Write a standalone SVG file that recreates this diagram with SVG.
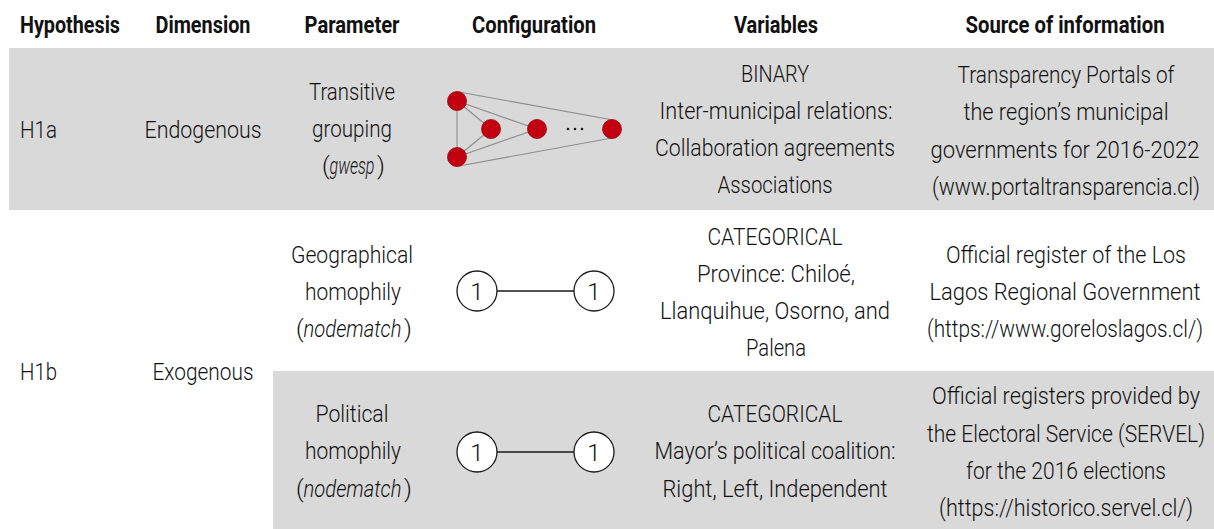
<svg xmlns="http://www.w3.org/2000/svg" width="1214" height="529" viewBox="0 0 1214 529">
  <style>
    text { font-family: Roboto, "Liberation Sans", sans-serif; font-size: 24px; font-weight: 300; fill: #111111; }
    .hd { font-weight: bold; text-anchor: middle; }
    .c { text-anchor: middle; }
    .it { font-style: italic; }
    .band { fill: #d9d9d9; }
    .edge { stroke: #8c8c8c; stroke-width: 1.1; fill: none; }
    .dot { fill: #c10010; stroke: #9e000c; stroke-width: 0.8; }
    .ring { fill: #ffffff; stroke: #1a1a1a; stroke-width: 1.3; }
    .link { stroke: #1a1a1a; stroke-width: 1.3; }
  </style>

  <rect width="1214" height="529" fill="#ffffff"/>

  <!-- row shading -->
  <rect class="band" x="9" y="48" width="1205" height="162"/>
  <rect class="band" x="273" y="371" width="941" height="158"/>

  <!-- column headers -->
  <g id="header">
    <text class="hd" x="70" y="33" textLength="100" lengthAdjust="spacingAndGlyphs">Hypothesis</text>
    <text class="hd" x="203" y="33" textLength="95" lengthAdjust="spacingAndGlyphs">Dimension</text>
    <text class="hd" x="352" y="33" textLength="95" lengthAdjust="spacingAndGlyphs">Parameter</text>
    <text class="hd" x="534" y="33" textLength="124" lengthAdjust="spacingAndGlyphs">Configuration</text>
    <text class="hd" x="776" y="33" textLength="84" lengthAdjust="spacingAndGlyphs">Variables</text>
    <text class="hd" x="1065" y="33" textLength="199" lengthAdjust="spacingAndGlyphs">Source of information</text>
  </g>

  <!-- H1a row -->
  <g id="h1a">
    <text x="20" y="138" textLength="37" lengthAdjust="spacingAndGlyphs">H1a</text>
    <text class="c" x="203" y="138" textLength="117" lengthAdjust="spacingAndGlyphs">Endogenous</text>
    <text class="c" x="352" y="100" textLength="86" lengthAdjust="spacingAndGlyphs">Transitive</text>
    <text class="c" x="352" y="137" textLength="80" lengthAdjust="spacingAndGlyphs">grouping</text>
    <!-- "(gwesp)": plain parentheses around a condensed italic word -->
    <text x="322" y="174">(</text>
    <g transform="translate(329.5 0) scale(0.72 1)">
      <text class="it" x="0" y="174" textLength="62.5" lengthAdjust="spacingAndGlyphs">gwesp</text>
    </g>
    <text x="377" y="174">)</text>
    <text class="c" x="775" y="82" textLength="68" lengthAdjust="spacingAndGlyphs">BINARY</text>
    <text class="c" x="776" y="119" textLength="233" lengthAdjust="spacingAndGlyphs">Inter-municipal relations:</text>
    <text class="c" x="775" y="156" textLength="240" lengthAdjust="spacingAndGlyphs">Collaboration agreements</text>
    <text class="c" x="775" y="193" textLength="115" lengthAdjust="spacingAndGlyphs">Associations</text>
    <!-- source column is set in a horizontally condensed frame -->
    <g transform="translate(1066 0) scale(0.85 1)">
      <text class="c" x="0" y="83" textLength="255.3" lengthAdjust="spacingAndGlyphs">Transparency Portals of</text>
      <text class="c" x="0" y="120" textLength="241.2" lengthAdjust="spacingAndGlyphs">the region’s municipal</text>
      <text class="c" x="-1.2" y="158" textLength="316.5" lengthAdjust="spacingAndGlyphs">governments for 2016-2022</text>
      <text class="c" x="0" y="195" textLength="315.3" lengthAdjust="spacingAndGlyphs">(www.portaltransparencia.cl)</text>
    </g>
  </g>

  <!-- transitive triangle configuration -->
  <g id="gwesp-config">
    <g class="edges">
      <line class="edge" x1="457" y1="101" x2="457" y2="157"/>
      <line class="edge" x1="457" y1="101" x2="491" y2="129"/>
      <line class="edge" x1="457" y1="157" x2="491" y2="129"/>
      <line class="edge" x1="457" y1="101" x2="537" y2="129"/>
      <line class="edge" x1="457" y1="157" x2="537" y2="129"/>
      <line class="edge" x1="459" y1="92" x2="613" y2="120"/>
      <line class="edge" x1="459" y1="166" x2="612" y2="138"/>
    </g>
    <circle class="dot" cx="457" cy="101" r="9.5"/>
    <circle class="dot" cx="457" cy="157" r="9.5"/>
    <circle class="dot" cx="491" cy="129" r="9.5"/>
    <circle class="dot" cx="537" cy="129" r="9.5"/>
    <circle class="dot" cx="612" cy="129" r="9.5"/>
    <circle cx="568" cy="129" r="1.3" fill="#1a1a1a"/>
    <circle cx="575" cy="129" r="1.3" fill="#1a1a1a"/>
    <circle cx="582" cy="129" r="1.3" fill="#1a1a1a"/>
  </g>

  <!-- H1b spanning label -->
  <g id="h1b">
    <text x="20" y="380" textLength="37" lengthAdjust="spacingAndGlyphs">H1b</text>
    <text class="c" x="203" y="380" textLength="101" lengthAdjust="spacingAndGlyphs">Exogenous</text>
  </g>

  <!-- geographical homophily row -->
  <g id="geo">
    <text class="c" x="352" y="263" textLength="122" lengthAdjust="spacingAndGlyphs">Geographical</text>
    <text class="c" x="353" y="300" textLength="96" lengthAdjust="spacingAndGlyphs">homophily</text>
    <text x="296" y="337">(</text>
    <g transform="translate(303.5 0) scale(0.82 1)">
      <text class="it" x="0" y="337" textLength="119.5" lengthAdjust="spacingAndGlyphs">nodematch</text>
    </g>
    <text x="404" y="337">)</text>
    <text class="c" x="775" y="245" textLength="135" lengthAdjust="spacingAndGlyphs">CATEGORICAL</text>
    <text class="c" x="776" y="282" textLength="158" lengthAdjust="spacingAndGlyphs">Province: Chiloé,</text>
    <text class="c" x="775" y="319" textLength="230" lengthAdjust="spacingAndGlyphs">Llanquihue, Osorno, and</text>
    <text class="c" x="776" y="356" textLength="60" lengthAdjust="spacingAndGlyphs">Palena</text>
    <g transform="translate(1066 0) scale(0.85 1)">
      <text class="c" x="0" y="263" textLength="282.4" lengthAdjust="spacingAndGlyphs">Official register of the Los</text>
      <text class="c" x="-1.2" y="300" textLength="318.8" lengthAdjust="spacingAndGlyphs">Lagos Regional Government</text>
      <text class="c" x="-1.2" y="337" textLength="324.7" lengthAdjust="spacingAndGlyphs">(https://www.goreloslagos.cl/)</text>
    </g>
  </g>

  <!-- political homophily row -->
  <g id="pol">
    <text class="c" x="352" y="422" textLength="73" lengthAdjust="spacingAndGlyphs">Political</text>
    <text class="c" x="353" y="459" textLength="96" lengthAdjust="spacingAndGlyphs">homophily</text>
    <text x="296" y="497">(</text>
    <g transform="translate(303.5 0) scale(0.82 1)">
      <text class="it" x="0" y="497" textLength="119.5" lengthAdjust="spacingAndGlyphs">nodematch</text>
    </g>
    <text x="404" y="497">)</text>
    <text class="c" x="775" y="422" textLength="135" lengthAdjust="spacingAndGlyphs">CATEGORICAL</text>
    <text class="c" x="775" y="459" textLength="241" lengthAdjust="spacingAndGlyphs">Mayor’s political coalition:</text>
    <text class="c" x="775" y="497" textLength="225" lengthAdjust="spacingAndGlyphs">Right, Left, Independent</text>
    <g transform="translate(1066 0) scale(0.85 1)">
      <text class="c" x="0" y="404" textLength="315.3" lengthAdjust="spacingAndGlyphs">Official registers provided by</text>
      <text class="c" x="0" y="442" textLength="327.1" lengthAdjust="spacingAndGlyphs">the Electoral Service (SERVEL)</text>
      <text class="c" x="0" y="479" textLength="235.3" lengthAdjust="spacingAndGlyphs">for the 2016 elections</text>
      <text class="c" x="0" y="516" textLength="298.8" lengthAdjust="spacingAndGlyphs">(https://historico.servel.cl/)</text>
    </g>
  </g>

  <!-- nodematch configurations -->
  <g id="connectors">
    <line class="link" x1="497" y1="291" x2="574" y2="291"/>
    <line class="link" x1="497" y1="452" x2="574" y2="452"/>
  </g>
  <g id="geo-node-a"><circle class="ring" cx="477" cy="291" r="20"/><text class="c" x="477" y="300">1</text></g>
  <g id="geo-node-b"><circle class="ring" cx="594" cy="291" r="20"/><text class="c" x="594" y="300">1</text></g>
  <g id="pol-node-a"><circle class="ring" cx="477" cy="452" r="20"/><text class="c" x="477" y="461">1</text></g>
  <g id="pol-node-b"><circle class="ring" cx="594" cy="452" r="20"/><text class="c" x="594" y="461">1</text></g>
</svg>
